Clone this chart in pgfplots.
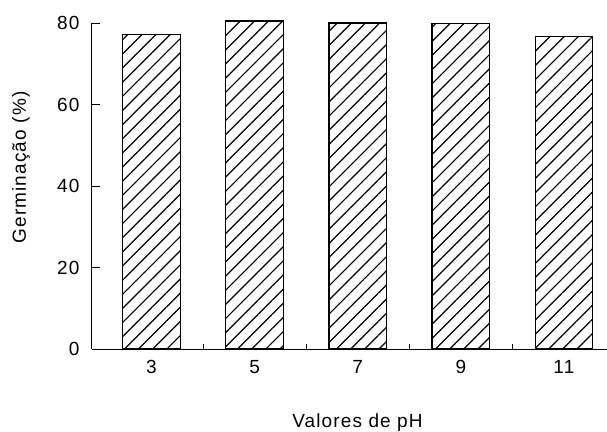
\documentclass[border=0pt]{standalone}
\usepackage{fontspec}
\setmainfont{Liberation Sans}[LetterSpace=6]
\usepackage{pgfplots}
\pgfplotsset{compat=1.18}
\usetikzlibrary{patterns.meta}

\begin{document}
\begin{tikzpicture}
\path[use as bounding box] (-92pt,-82pt) rectangle (515pt,349pt);
\begin{axis}[
    scale only axis,
    width=515pt, height=325.6pt,
    xmin=-0.577, xmax=4.418,
    ymin=0, ymax=80,
    axis x line=bottom, axis y line=left,
    axis line style={-, line width=1pt},
    clip=false,
    ybar, bar width=57.5pt,
    xtick={0,1,2,3,4},
    xticklabels={3,5,7,9,11},
    minor xtick={0.5,1.5,2.5,3.5},
    ytick={0,20,40,60,80},
    tick align=inside,
    major tick length=8pt,
    minor tick length=5pt,
    tick style={black, line width=0.9pt},
    major x tick style={draw=none},
    tick label style={font=\fontsize{19}{22}\selectfont},
    /pgf/number format/assume math mode=true,
    yticklabel style={xshift=-9pt},
    xticklabel style={yshift=-8pt},
    label style={font=\fontsize{19}{22}\selectfont},
    xlabel={Valores de pH},
    ylabel={Germinação (\%)},
    xlabel style={at={(axis description cs:0.5155,-0.2417)}, anchor=base},
    ylabel style={at={(axis description cs:-0.1379,0.5574)}, anchor=center},
]
\addplot[draw=black, line width=1.3pt,
    pattern={Lines[angle=45,distance=10pt,line width=1.2pt]}]
    coordinates {(0,77.3) (1,80.6) (2,80.1) (3,80.0) (4,76.7)};
\end{axis}
\end{tikzpicture}
\end{document}
